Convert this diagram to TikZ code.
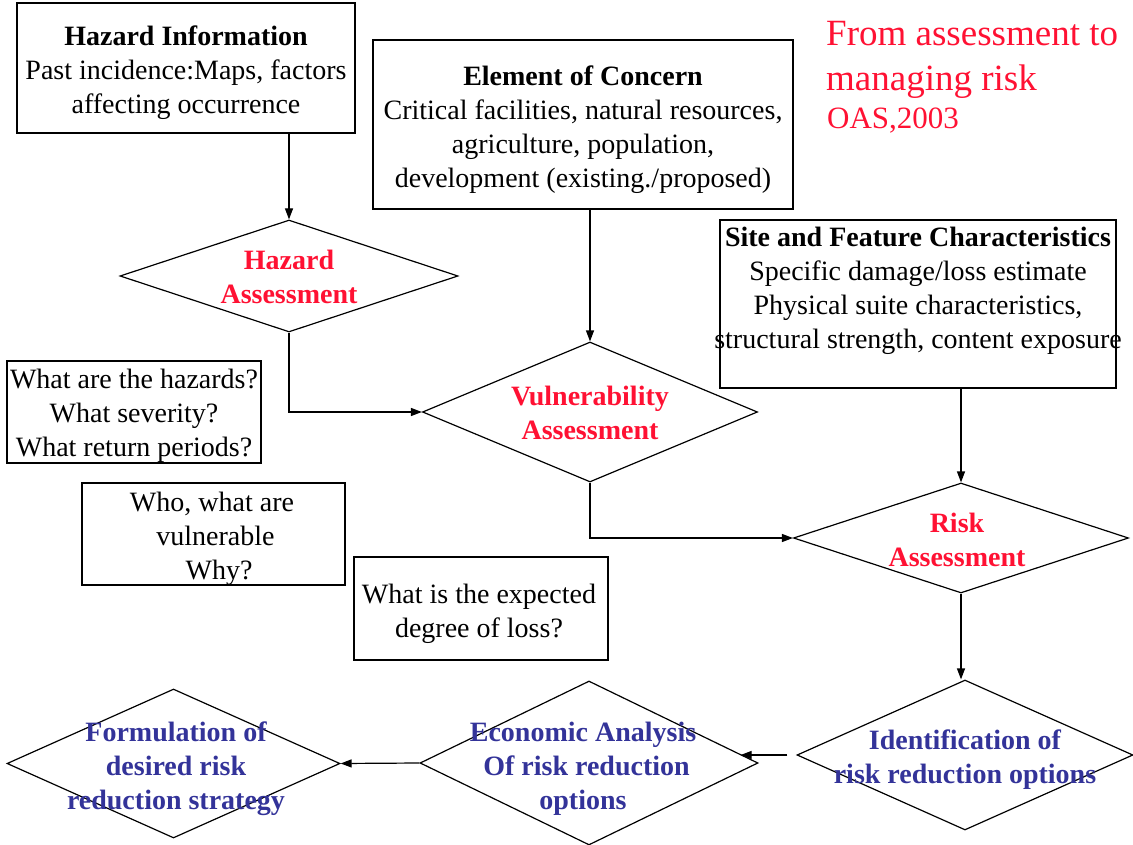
\documentclass[tikz,border=0pt]{standalone}
\usepackage{fontspec}
\setmainfont{Liberation Serif}
\usetikzlibrary{shapes.geometric,arrows.meta}
\definecolor{hzred}{HTML}{FF1133}
\definecolor{optblue}{HTML}{333399}
\tikzset{
  label text/.style={align=center, inner sep=0pt, font=\fontsize{28}{34}\selectfont},
  box/.style={draw, line width=1.2pt, rectangle, inner sep=0pt},
  txt/.style={label text, yshift=-2.5pt},
  dia/.style={draw, line width=1.2pt, diamond, inner sep=0pt},
  hot/.style={label text, text=hzred, font=\fontsize{28}{34}\selectfont\bfseries},
  opt/.style={txt, text=optblue, font=\fontsize{28}{34}\selectfont\bfseries},
  flow/.style={line width=1.2pt, -{Triangle[length=11pt,width=8pt]}}
}
\begin{document}
\begin{tikzpicture}[x=1pt, y=-1pt]
\useasboundingbox (0,0) rectangle (1133,845);

% upper information boxes
\node[box, minimum width=338pt, minimum height=130pt] (hzinfo) at (186,68) {};
\node[txt] (hzinfotxt) at (186,70) {\textbf{Hazard Information}\\Past incidence:Maps, factors\\affecting occurrence};

\node[box, minimum width=420pt, minimum height=169pt] (elem) at (583,124.5) {};
\node[txt] (elemtxt) at (583,127) {\textbf{Element of Concern}\\Critical facilities, natural resources,\\agriculture, population,\\development (existing./proposed)};

\node[box, minimum width=396pt, minimum height=168pt] (site) at (918,304) {};
\node[txt] (sitetxt) at (918,288) {\textbf{Site and Feature Characteristics}\\Specific damage/loss estimate\\Physical suite characteristics,\\structural strength, content exposure};

% heading and source (anchored at the baseline of their last line)
\node[align=left, anchor=base west, inner sep=0pt, text=hzred,
      font=\fontsize{37}{45}\selectfont] (title) at (826,91)
  {From assessment to\\managing risk};
\node[anchor=base west, inner sep=0pt, text=hzred,
      font=\fontsize{31}{34}\selectfont] (source) at (827,129) {OAS,2003};

% assessment diamonds
\node[dia, minimum width=338pt, minimum height=112pt] (hz) at (289,276) {};
\node[hot] (hztxt) at (289,277) {Hazard\\Assessment};

\node[dia, minimum width=335pt, minimum height=140pt] (vul) at (590,412) {};
\node[hot] (vultxt) at (590,413) {Vulnerability\\Assessment};

\node[dia, minimum width=335pt, minimum height=110pt] (risk) at (961,538) {};
\node[hot] (risktxt) at (957,540) {Risk\\Assessment};

% question boxes
\node[box, minimum width=254pt, minimum height=102pt] (q1) at (134,412) {};
\node[txt] (q1txt) at (134,413) {What are the hazards?\\What severity?\\What return periods?};

\node[box, minimum width=263pt, minimum height=102pt] (q2) at (213.5,534) {};
\node[txt] (q2txt) at (212,536) {Who, what are\\\ vulnerable\\\ \ Why?};

\node[box, minimum width=254pt, minimum height=103pt] (q3) at (481,608.5) {};
\node[txt] (q3txt) at (479,611) {What is the expected\\degree of loss?};

% risk reduction diamonds
\node[dia, minimum width=336pt, minimum height=150pt] (ident) at (965,755) {};
\node[opt] (identtxt) at (965,757) {Identification of\\risk reduction options};

\node[dia, minimum width=338pt, minimum height=164pt] (econ) at (589,763) {};
\node[opt] (econtxt) at (583,766) {Economic Analysis\\\ Of risk reduction\\options};

\node[dia, minimum width=333pt, minimum height=149pt] (form) at (173.5,763.5) {};
\node[opt] (formtxt) at (176,766) {Formulation of\\desired risk\\reduction strategy};

% connectors
\draw[flow] (hzinfo.south -| hz.north) -- (hz.north);
\draw[flow] (elem.south -| vul.north) -- (vul.north);
\draw[flow] (hz.south) |- (vul.west);
\draw[flow] (vul.south) |- (risk.west);
\draw[flow] (site.south -| risk.north) -- (risk.north);
\draw[flow] (risk.south) -- (risk.south |- ident.north);
\draw[flow] ([xshift=-9pt]ident.west) -- ([xshift=-18pt]econ.east |- ident.west);
\draw[flow] (econ.west) -- (form.east);
\end{tikzpicture}
\end{document}
